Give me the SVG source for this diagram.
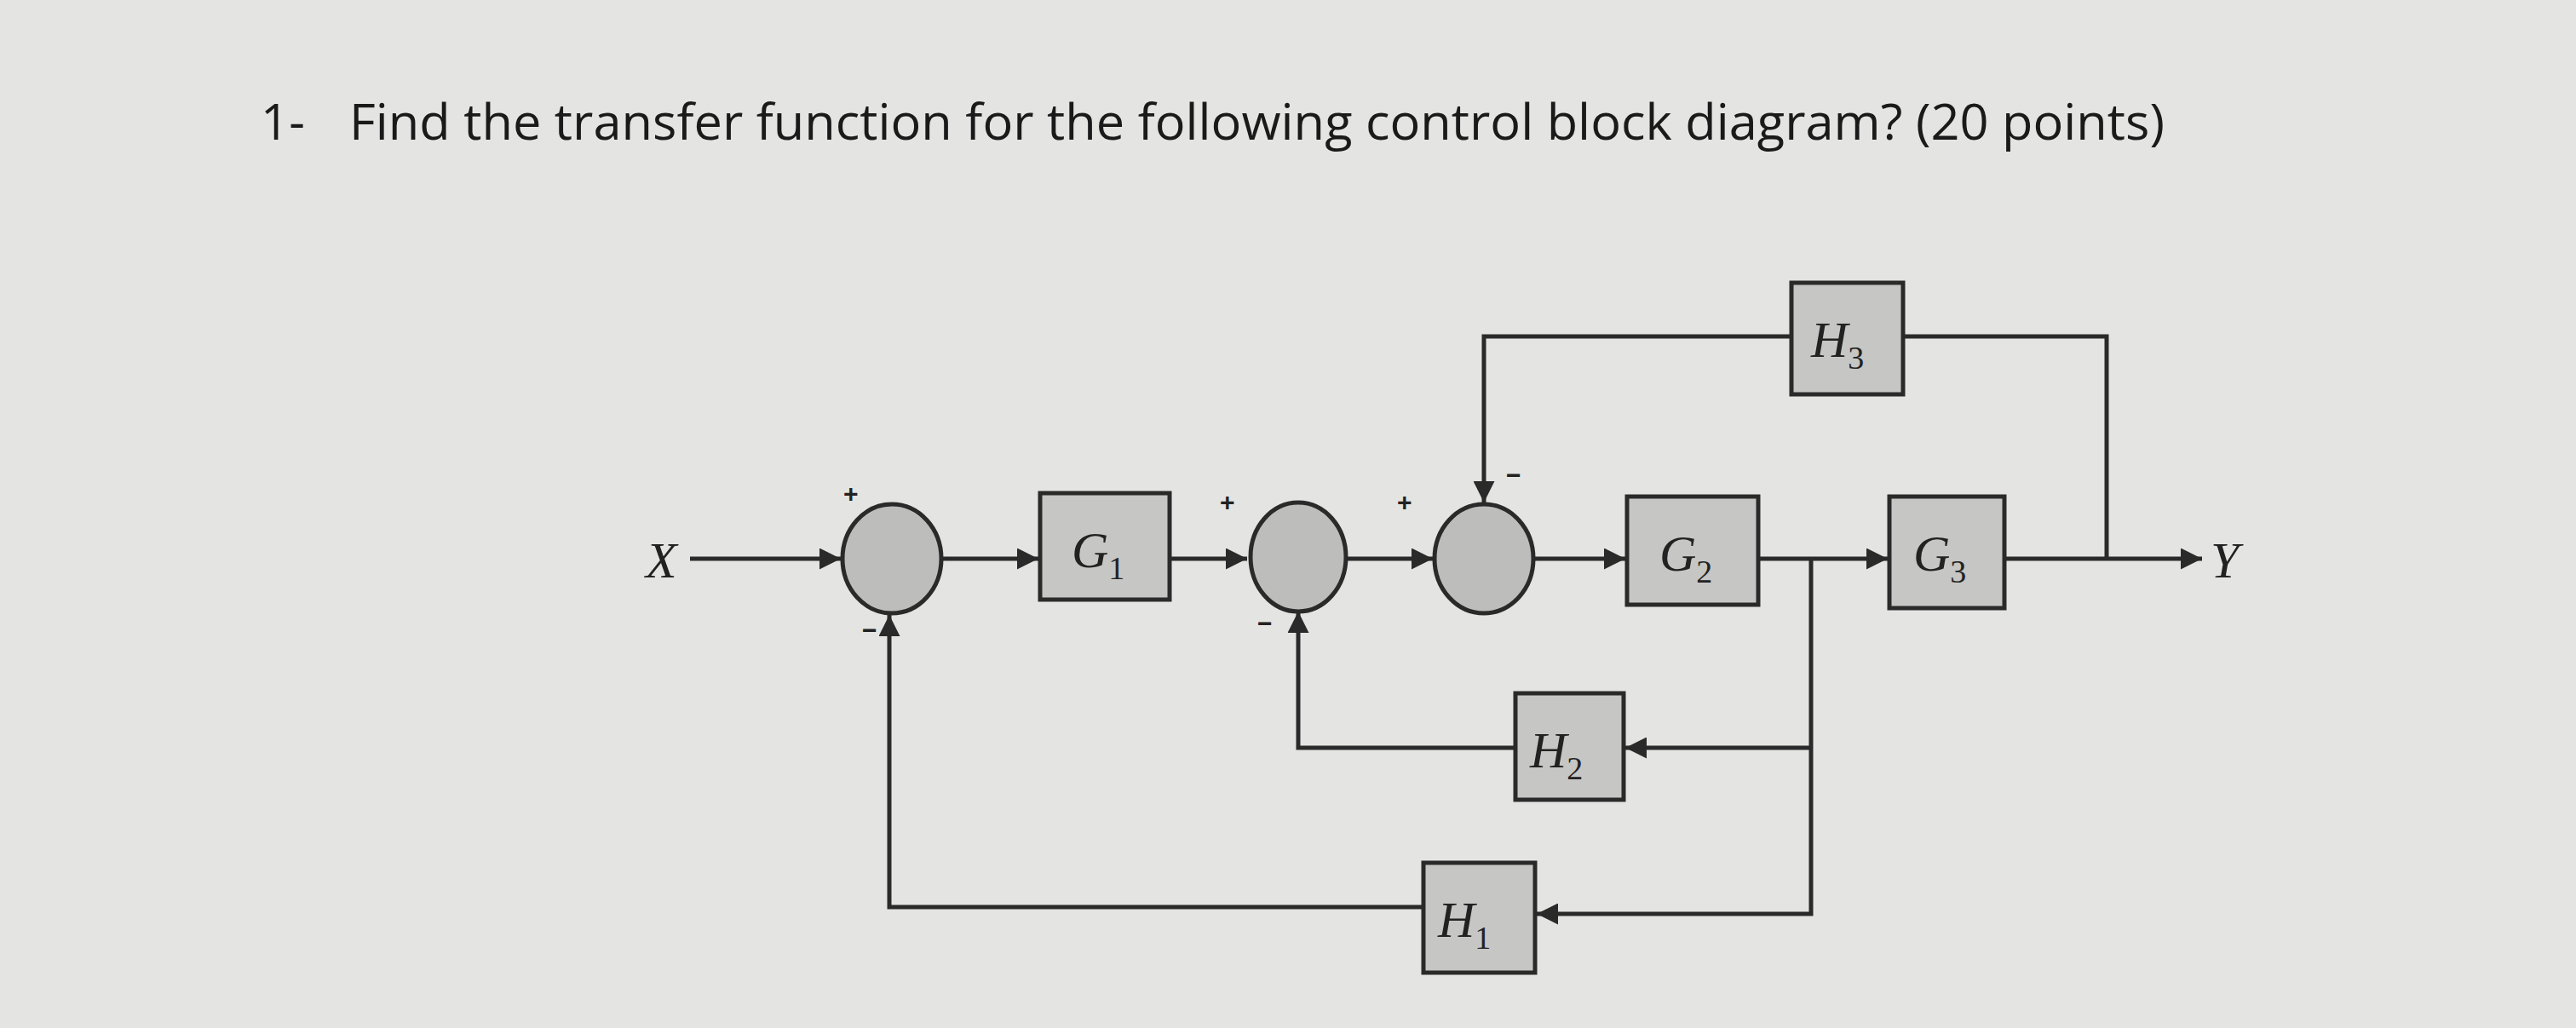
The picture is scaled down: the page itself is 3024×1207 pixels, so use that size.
<svg xmlns="http://www.w3.org/2000/svg" width="3024" height="1207" viewBox="0 0 3024 1207">
<defs>
<style>
.ln{fill:none;stroke:#2a2a2a;stroke-width:5}
.bx{fill:#c6c6c4;stroke:#2a2a2a;stroke-width:5}
.sm{fill:#bdbdbb;stroke:#2a2a2a;stroke-width:5}
.lb{font-family:"Liberation Serif",serif;font-style:italic;font-size:60px;fill:#222}
.sub{font-size:38px;font-style:normal}
.sg{font-family:"Liberation Sans",sans-serif;font-size:30px;fill:#222;font-weight:bold}
.tt{font-family:"Open Sans","Liberation Sans",sans-serif;font-size:58px;fill:#1a1a1a}
</style>
<marker id="ar" viewBox="0 0 10 10" refX="10" refY="5" markerWidth="5" markerHeight="5" orient="auto-start-reverse"><path d="M0,0L10,5L0,10z" fill="#2a2a2a"/></marker>
</defs>
<rect width="3024" height="1207" fill="#e4e4e2"/>
<text class="tt" x="306" y="164">1-</text>
<text class="tt" x="410" y="164" textLength="2131" lengthAdjust="spacingAndGlyphs">Find the transfer function for the following control block diagram? (20 points)</text>
<g id="connectors">
<path class="ln" d="M810,656H987" marker-end="url(#ar)"/>
<path class="ln" d="M1105,656H1219" marker-end="url(#ar)"/>
<path class="ln" d="M1373,656H1464" marker-end="url(#ar)"/>
<path class="ln" d="M1582,656H1682" marker-end="url(#ar)"/>
<path class="ln" d="M1800,656H1908" marker-end="url(#ar)"/>
<path class="ln" d="M2064,656H2216" marker-end="url(#ar)"/>
<path class="ln" d="M2353,656H2585" marker-end="url(#ar)"/>
<path class="ln" d="M2473,656V395H2234"/>
<path class="ln" d="M2103,395H1742V590" marker-end="url(#ar)"/>
<path class="ln" d="M2126,656V1073H1804" marker-end="url(#ar)"/>
<path class="ln" d="M2126,878H1908" marker-end="url(#ar)"/>
<path class="ln" d="M1779,878H1524V718" marker-end="url(#ar)"/>
<path class="ln" d="M1671,1065H1044V722" marker-end="url(#ar)"/>
</g>
<text class="lb" x="758" y="678">X</text>
<text class="lb" x="2595" y="678">Y</text>
<g id="sum1"><ellipse class="sm" cx="1047" cy="656" rx="58" ry="64"/><text class="sg" x="990" y="590">+</text><text class="sg" x="1012" y="750">−</text></g>
<g id="sum2"><ellipse class="sm" cx="1524" cy="654" rx="56" ry="64"/><text class="sg" x="1432" y="600">+</text><text class="sg" x="1476" y="742">−</text></g>
<g id="sum3"><ellipse class="sm" cx="1742" cy="656" rx="58" ry="64"/><text class="sg" x="1640" y="600">+</text><text class="sg" x="1768" y="568">−</text></g>
<g id="G1"><rect class="bx" x="1221" y="579" width="152" height="125"/><text class="lb" x="1258" y="666">G<tspan class="sub" dy="14">1</tspan></text></g>
<g id="G2"><rect class="bx" x="1910" y="583" width="154" height="127"/><text class="lb" x="1948" y="670">G<tspan class="sub" dy="14">2</tspan></text></g>
<g id="G3"><rect class="bx" x="2218" y="583" width="135" height="131"/><text class="lb" x="2246" y="670">G<tspan class="sub" dy="14">3</tspan></text></g>
<g id="H3"><rect class="bx" x="2103" y="332" width="131" height="131"/><text class="lb" x="2126" y="419">H<tspan class="sub" dy="14">3</tspan></text></g>
<g id="H2"><rect class="bx" x="1779" y="814" width="127" height="125"/><text class="lb" x="1796" y="901">H<tspan class="sub" dy="14">2</tspan></text></g>
<g id="H1"><rect class="bx" x="1671" y="1013" width="131" height="129"/><text class="lb" x="1688" y="1100">H<tspan class="sub" dy="14">1</tspan></text></g>
</svg>
